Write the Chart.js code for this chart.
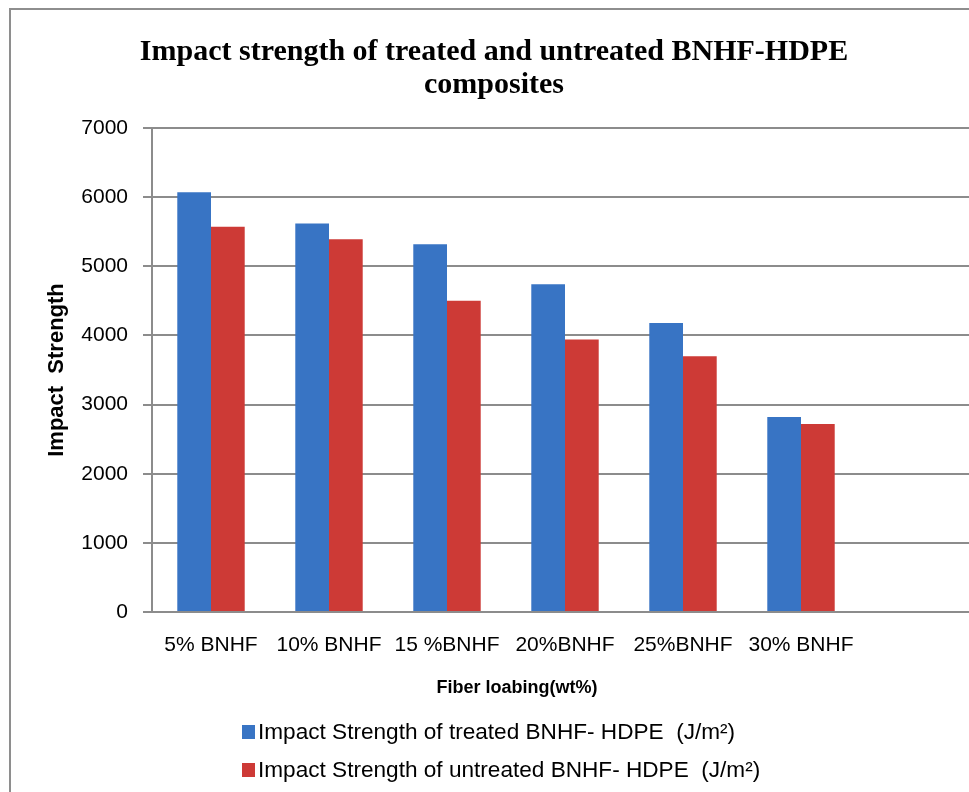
<!DOCTYPE html>
<html>
<head>
<meta charset="utf-8">
<title>Impact strength of treated and untreated BNHF-HDPE composites</title>
<script src="https://cdn.jsdelivr.net/npm/chart.js@4/dist/chart.umd.min.js"></script>
<style>
  html, body { margin: 0; padding: 0; background: #ffffff; overflow: hidden; }
  #wrap { position: relative; width: 969px; height: 792px; overflow: hidden; }
  #frame { position: absolute; left: 9px; top: 8px; width: 2000px; height: 2000px;
           border-left: 2px solid #8e8e8e; border-top: 2px solid #8e8e8e; pointer-events: none; }
  canvas { position: absolute; left: 0; top: 0; }
</style>
</head>
<body>
<div id="wrap">
  <canvas id="chart" width="990" height="792"></canvas>
  <div id="frame"></div>
</div>
<script>
// Fiber loading levels on the category axis
const categories = ['5% BNHF', '10% BNHF', '15 %BNHF', '20%BNHF', '25%BNHF', '30% BNHF'];
// the axis keeps one spare slot after the last loading level
const axisSlots = [...categories, ''];

// Impact strength, J/m²
const treatedStrength = [6070, 5620, 5320, 4740, 4180, 2820];
const untreatedStrength = [5570, 5390, 4500, 3940, 3700, 2720];

// value axis ticks
const yTicks = [0, 1000, 2000, 3000, 4000, 5000, 6000, 7000];

const seriesNames = [
  'Impact Strength of treated BNHF- HDPE  (J/m\u00b2)',
  'Impact Strength of untreated BNHF- HDPE  (J/m\u00b2)'
];
const titleLines = ['Impact strength of treated and untreated BNHF-HDPE', 'composites'];
const xTitle = 'Fiber loabing(wt%)';
const yTitle = 'Impact  Strength';

const GRID = '#8c8c8c';
const SANS = "'Liberation Sans', Arial, sans-serif";

// x-axis title and the two-row legend under the plot
const bottomTexts = {
  id: 'bottomTexts',
  afterDraw(chart) {
    const ctx = chart.ctx;
    ctx.save();
    ctx.fillStyle = '#000000';
    ctx.textBaseline = 'middle';
    ctx.textAlign = 'center';
    ctx.font = 'bold 18px ' + SANS;
    ctx.fillText(xTitle, 517, 688);

    ctx.textAlign = 'left';
    ctx.font = '22.6px ' + SANS;
    chart.data.datasets.forEach((ds, i) => {
      const cy = 732 + i * 38;
      ctx.fillStyle = ds.backgroundColor;
      ctx.fillRect(242, cy - 7, 13, 14);
      ctx.fillStyle = '#000000';
      ctx.fillText(ds.label, 258, cy + 1);
    });
    ctx.restore();
  }
};

new Chart(document.getElementById('chart'), {
  type: 'bar',
  data: {
    labels: axisSlots,
    datasets: [
      {
        label: seriesNames[0],
        data: treatedStrength,
        backgroundColor: '#3874c4',
        categoryPercentage: 2 / 3.5,
        barPercentage: 1.0
      },
      {
        label: seriesNames[1],
        data: untreatedStrength,
        backgroundColor: '#cd3a36',
        categoryPercentage: 2 / 3.5,
        barPercentage: 1.0
      }
    ]
  },
  options: {
    responsive: false,
    animation: false,
    devicePixelRatio: 1,
    layout: { padding: { left: 10, right: 12, top: 0, bottom: 0 } },
    plugins: {
      legend: { display: false },
      tooltip: { enabled: false },
      title: {
        display: true,
        text: titleLines,
        color: '#000000',
        font: { family: "'Liberation Serif', 'Times New Roman', serif", weight: 'bold', size: 30, lineHeight: 1.1 },
        padding: { top: 36, bottom: 26 }
      }
    },
    scales: {
      x: {
        grid: { display: false, drawTicks: false },
        border: { display: true, color: GRID, width: 2 },
        ticks: { color: '#000000', font: { family: SANS, size: 21 }, padding: 21, maxRotation: 0, autoSkip: false },
        afterFit(scale) { scale.height = 180; }
      },
      y: {
        min: 0,
        max: 7000,
        afterBuildTicks(scale) { scale.ticks = yTicks.map(v => ({ value: v })); },
        grid: { color: GRID, lineWidth: 2, tickLength: 9, drawTicks: true },
        border: { display: true, color: GRID, width: 2 },
        ticks: {
          color: '#000000',
          font: { family: SANS, size: 21 },
          padding: 15,
          callback: v => String(v)
        },
        title: {
          display: true,
          text: yTitle,
          color: '#000000',
          font: { family: SANS, weight: 'bold', size: 22 },
          padding: { top: 34, bottom: 0 }
        },
        afterFit(scale) { scale.width = 142; }
      }
    }
  },
  plugins: [bottomTexts]
});
</script>
</body>
</html>
